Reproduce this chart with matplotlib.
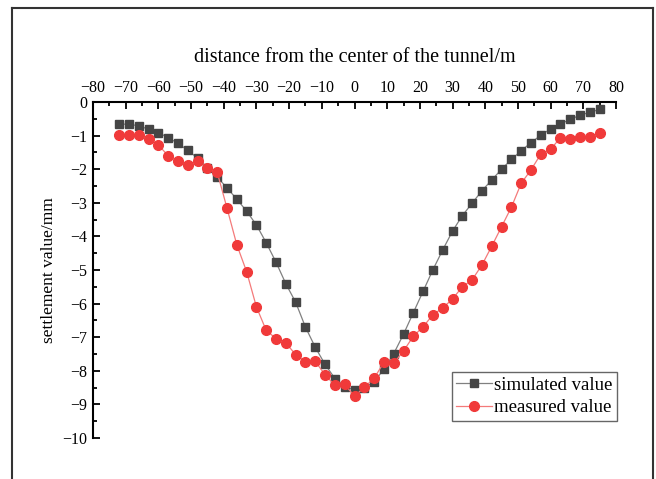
import matplotlib
matplotlib.use("Agg")
import matplotlib.pyplot as plt
from matplotlib.lines import Line2D
from matplotlib.ticker import MultipleLocator

# distance from tunnel center (m)
distance = [-72, -69, -66, -63, -60, -57, -54, -51, -48, -45,
            -42, -39, -36, -33, -30, -27, -24, -21, -18, -15,
            -12, -9, -6, -3, 0, 3, 6, 9, 12, 15,
            18, 21, 24, 27, 30, 33, 36, 39, 42, 45,
            48, 51, 54, 57, 60, 63, 66, 69, 72, 75]

simulated = [-0.66, -0.66, -0.71, -0.81, -0.91, -1.06, -1.23, -1.44, -1.67, -1.97,
             -2.23, -2.56, -2.89, -3.25, -3.66, -4.19, -4.77, -5.41, -5.96, -6.70,
             -7.30, -7.81, -8.23, -8.47, -8.57, -8.50, -8.33, -7.95, -7.49, -6.91,
             -6.27, -5.63, -4.99, -4.40, -3.84, -3.38, -3.01, -2.64, -2.32, -2.00,
             -1.71, -1.45, -1.21, -0.99, -0.80, -0.65, -0.52, -0.39, -0.31, -0.22]

measured = [-0.98, -0.98, -0.97, -1.09, -1.28, -1.60, -1.77, -1.88, -1.76, -1.95,
            -2.09, -3.16, -4.25, -5.05, -6.10, -6.80, -7.04, -7.17, -7.52, -7.73,
            -7.72, -8.12, -8.43, -8.40, -8.76, -8.49, -8.22, -7.75, -7.78, -7.41,
            -6.97, -6.69, -6.33, -6.13, -5.86, -5.50, -5.29, -4.85, -4.29, -3.71,
            -3.13, -2.42, -2.02, -1.55, -1.41, -1.06, -1.09, -1.04, -1.04, -0.93]

plt.rcParams["font.family"] = ["Liberation Serif", "DejaVu Serif"]

fig = plt.figure(figsize=(6.56, 4.79), dpi=100)
ax = fig.add_axes([93 / 656, 1 - 438 / 479, 523 / 656, 336 / 479])

ax.plot(distance, simulated, color="#808080", lw=0.9, marker="s", ms=6.2,
        mfc="#454545", mec="#454545", label="simulated value")
ax.plot(distance, measured, color="#f47a7a", lw=0.9, marker="o", ms=7,
        mfc="#f03a3a", mec="#f03a3a", label="measured value")

ax.set_xlim(-80, 80)
ax.set_ylim(-10, 0)
ax.xaxis.set_major_locator(MultipleLocator(10))
ax.xaxis.set_minor_locator(MultipleLocator(5))
ax.yaxis.set_major_locator(MultipleLocator(1))
ax.yaxis.set_minor_locator(MultipleLocator(0.5))

ax.xaxis.tick_top()
ax.xaxis.set_label_position("top")
ax.spines["right"].set_visible(False)
ax.spines["bottom"].set_visible(False)
for s in ("top", "left"):
    ax.spines[s].set_linewidth(1.5)
ax.tick_params(which="both", direction="in", width=1.3, labelsize=11.5,
               top=True, bottom=False, left=True, right=False)
ax.tick_params(which="major", length=5, pad=4)
ax.tick_params(which="minor", length=3)

ax.set_xlabel("distance from the center of the tunnel/m", fontsize=14.5, labelpad=13)
ax.set_ylabel("settlement value/mm", fontsize=12.5, labelpad=4)

leg = ax.legend(loc="lower right", bbox_to_anchor=(617 / 656, 1 - 421 / 479),
                bbox_transform=fig.transFigure, fontsize=13.5, frameon=True,
                fancybox=False, edgecolor="#404040", borderpad=0.25,
                handlelength=1.9, handletextpad=0.1, labelspacing=0.3,
                borderaxespad=0)
leg.get_frame().set_linewidth(1.0)

# outer frame around the figure
frame_kw = dict(color="#333333", lw=1.5, transform=fig.transFigure)
fig.add_artist(Line2D([12 / 656, 12 / 656], [0, 1 - 8 / 479], **frame_kw))
fig.add_artist(Line2D([12 / 656, 653 / 656], [1 - 8 / 479, 1 - 8 / 479], **frame_kw))
fig.add_artist(Line2D([653 / 656, 653 / 656], [0, 1 - 8 / 479], **frame_kw))

fig.savefig("out.png", dpi=100)
